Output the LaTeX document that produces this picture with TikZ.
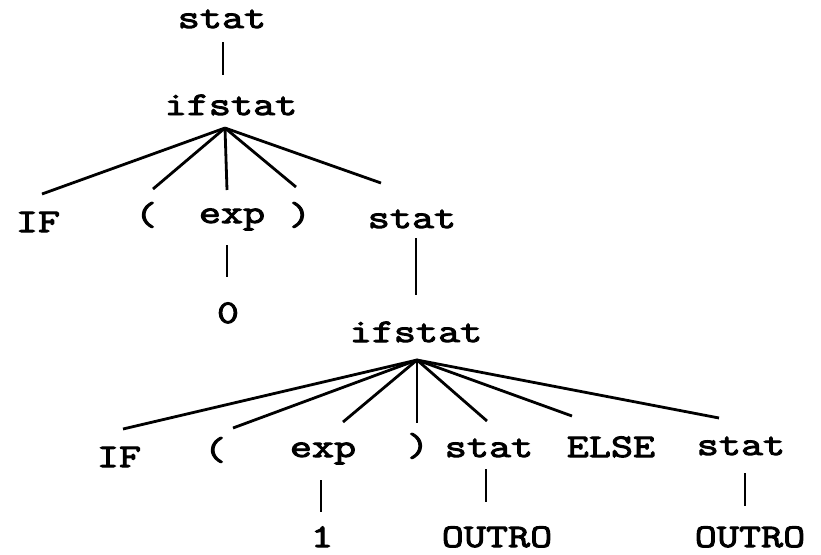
\documentclass[tikz,border=0pt]{standalone}
\usepackage{fontspec}
\newfontfamily\treefont{Latin Modern Mono}[FakeBold=3,FakeStretch=1.3]
\begin{document}
\begin{tikzpicture}[x=1pt,y=-1pt,
  sym/.style={font=\treefont\fontsize{33}{36}\selectfont, inner sep=0pt, anchor=base},
  edge/.style={line width=2.8pt}]
\useasboundingbox (0,0) rectangle (821,554);

% labels of the parse tree (positions are baselines)
\node[sym] (s0)  at (222,28)  {stat};
\node[sym] (if1) at (231,115) {ifstat};
\node[sym] (IFa) at (38,232)  {IF};
\node[sym] (lpa) at (146,225) {(};
\node[sym] (exa) at (232,223) {exp};
\node[sym] (rpa) at (300,225) {)};
\node[sym] (s1)  at (412,228) {stat};
\node[sym] (zero) at (228,323) {0};
\node[sym] (if2) at (416,342) {ifstat};
\node[sym] (IFb) at (119,467) {IF};
\node[sym] (lpb) at (215,460) {(};
\node[sym] (exb) at (323,457) {exp};
\node[sym] (rpb) at (418,456) {)};
\node[sym] (s2)  at (489,457) {stat};
\node[sym] (els) at (611,457) {ELSE};
\node[sym] (s3)  at (741,455) {stat};
\node[sym] (one) at (322,547) {1};
\node[sym] (out1) at (497,547) {OUTRO};
\node[sym] (out2) at (750,547) {OUTRO};

% branch points and edge ends
\coordinate (s0b)  at (223,42);
\coordinate (if1t) at (223,75);
\coordinate (f1)   at (225,128);
\coordinate (IFat) at (42,194);
\coordinate (lpat) at (153,189);
\coordinate (exat) at (227,190);
\coordinate (rpat) at (296,187);
\coordinate (s1t)  at (381,183);
\coordinate (exab) at (227,245);
\coordinate (zerot) at (227,277);
\coordinate (s1b)  at (416,238);
\coordinate (if2t) at (416,295);
\coordinate (f2)   at (417,360);
\coordinate (IFbt) at (123,429);
\coordinate (lpbt) at (233,428);
\coordinate (exbt) at (343,422);
\coordinate (rpbt) at (417,423);
\coordinate (s2t)  at (487,421);
\coordinate (elst) at (572,416);
\coordinate (s3t)  at (719,418);
\coordinate (exbb) at (321,480);
\coordinate (onet) at (321,512);
\coordinate (s2b)  at (486,469);
\coordinate (out1t) at (486,502);
\coordinate (s3b)  at (745,473);
\coordinate (out2t) at (745,506);

% edges
\draw[edge] (s0b) -- (if1t);
\foreach \e in {IFat,lpat,exat,rpat,s1t} \draw[edge] (f1) -- (\e);
\draw[edge] (exab) -- (zerot);
\draw[edge] (s1b) -- (if2t);
\foreach \e in {IFbt,lpbt,exbt,rpbt,s2t,elst,s3t} \draw[edge] (f2) -- (\e);
\draw[edge] (exbb) -- (onet);
\draw[edge] (s2b) -- (out1t);
\draw[edge] (s3b) -- (out2t);
\end{tikzpicture}
\end{document}
